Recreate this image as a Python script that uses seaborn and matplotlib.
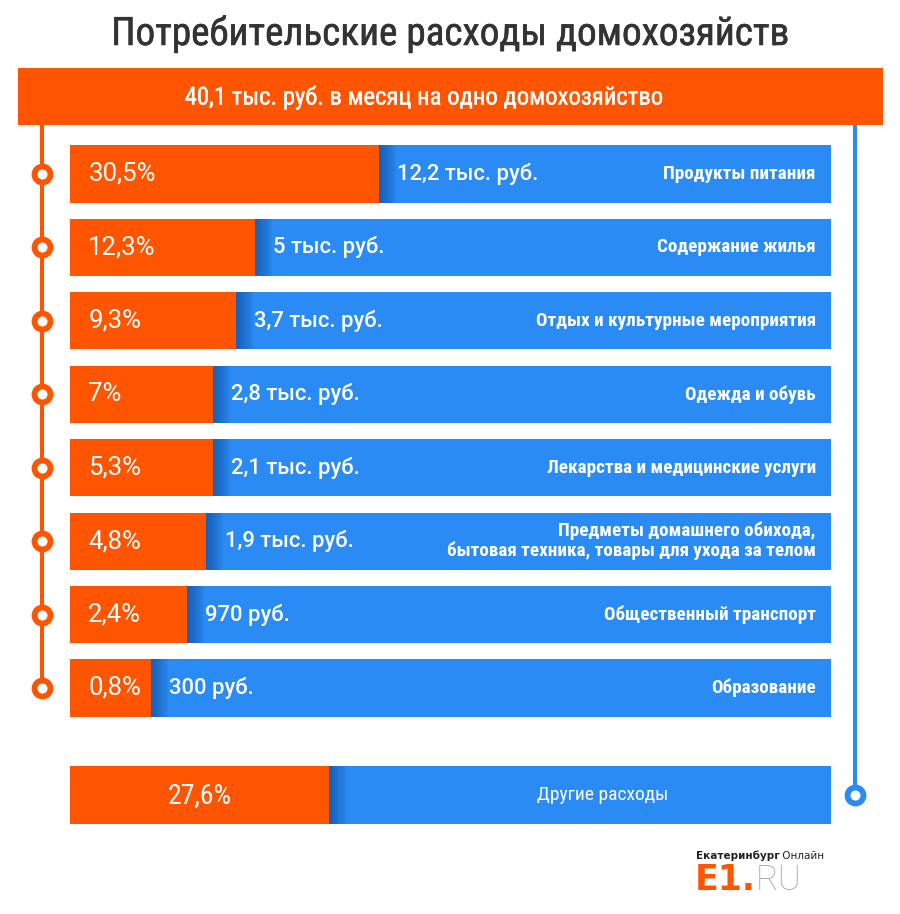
import matplotlib
matplotlib.use("Agg")
import matplotlib.pyplot as plt
import matplotlib.patheffects as pe
import matplotlib.transforms as mtransforms
from matplotlib import font_manager
from matplotlib.patches import Rectangle
import pandas as pd
import seaborn as sns

title = "Потребительские расходы домохозяйств"
total_label = "40,1 тыс. руб. в месяц на одно домохозяйство"

categories = [
    "Продукты питания",
    "Содержание жилья",
    "Отдых и культурные мероприятия",
    "Одежда и обувь",
    "Лекарства и медицинские услуги",
    "Предметы домашнего обихода,\nбытовая техника, товары для ухода за телом",
    "Общественный транспорт",
    "Образование",
]
share_pct = [30.5, 12.3, 9.3, 7.0, 5.3, 4.8, 2.4, 0.8]
amount_labels = [
    "12,2 тыс. руб.", "5 тыс. руб.", "3,7 тыс. руб.", "2,8 тыс. руб.",
    "2,1 тыс. руб.", "1,9 тыс. руб.", "970 руб.", "300 руб.",
]
# orange part as drawn in the infographic, % of the full bar width
orange_len = [40.6, 24.3, 21.8, 18.8, 18.8, 17.9, 15.4, 10.6]

other_category = "Другие расходы"
other_pct = 27.6
other_len = 34.0

ORANGE = "#FF5500"
BLUE = "#2A8BF4"
DARK_BLUE = "#0B3F85"
TITLE_GREY = "#333333"


def pick_font(names):
    installed = {f.name for f in font_manager.fontManager.ttflist}
    for name in names:
        if name in installed:
            return name
    return "DejaVu Sans"


NARROW = pick_font(["Roboto Condensed", "Liberation Sans Narrow", "Noto Sans Condensed",
                    "Open Sans Condensed", "DejaVu Sans"])
REGULAR = pick_font(["Roboto", "Noto Sans", "DejaVu Sans"])


def fmt_pct(v):
    return f"{v:g}".replace(".", ",") + "%"


def draw_bars(ax, df):
    common = dict(y="category", saturation=1, width=0.78, linewidth=0,
                  errorbar=None, orient="h", ax=ax)
    sns.barplot(data=df, x="full", color=BLUE, **common)
    # soft shadow right of the orange part
    for k in range(8, 0, -1):
        sh = df.assign(edge=df["orange"] + 0.28 * k)
        sns.barplot(data=sh, x="edge", color=DARK_BLUE, alpha=0.085, **common)
    sns.barplot(data=df, x="orange", color=ORANGE, **common)
    ax.set_xlim(0, 100)
    ax.axis("off")


def text_after(fig, prev, s, **kw):
    # put s right after prev, on the same baseline
    r = fig.canvas.get_renderer()
    bb = prev.get_window_extent(renderer=r)
    x0, y0 = prev.get_position()
    x = bb.x1 / fig.bbox.width
    return fig.text(x, y0, s, va="baseline", ha="left", **kw)


def main():
    sns.set_theme(style="white")
    plt.rcParams["font.family"] = [REGULAR, "DejaVu Sans"]

    fig = plt.figure(figsize=(9, 9.14), dpi=100)
    fig.patch.set_facecolor("white")

    # main rows
    ax = fig.add_axes([0.0778, 0.2071, 0.8456, 0.6427])
    df = pd.DataFrame({"category": categories, "full": 100.0, "orange": orange_len})
    draw_bars(ax, df)
    ax.set_ylim(len(categories) - 0.5, -0.5)

    for i in range(len(categories)):
        ax.text(2.4, i, fmt_pct(share_pct[i]), color="white", va="center", ha="left",
                fontsize=18.5, family=REGULAR)
        ax.text(orange_len[i] + 2.4, i, amount_labels[i], color="white", va="center",
                ha="left", fontsize=15.8, family=REGULAR, fontweight="medium")
        ax.text(98.0, i, categories[i], color="white", va="center", ha="right",
                fontsize=13.8, family=NARROW, fontweight="bold", linespacing=1.1,
                fontstretch="condensed")

    # orange timeline with circles
    tr = mtransforms.blended_transform_factory(fig.transFigure, ax.transData)
    ax.plot([0.0467, 0.0467], [-0.8, len(categories) - 1], color=ORANGE, lw=2.9,
            transform=tr, clip_on=False, zorder=1)
    ax.plot([0.0467] * len(categories), list(range(len(categories))), ls="none",
            marker="o", ms=11.5, mew=4.2, mec=ORANGE, mfc="white", transform=tr,
            clip_on=False, zorder=2)

    # "other" row
    ax2 = fig.add_axes([0.0778, 0.0900, 0.8456, 0.0803])
    df2 = pd.DataFrame({"category": [other_category], "full": [100.0], "orange": [other_len]})
    draw_bars(ax2, df2)
    ax2.set_ylim(0.5, -0.5)
    ax2.text(other_len / 2, 0, fmt_pct(other_pct), color="white", va="center", ha="center",
             fontsize=20, family=NARROW, fontstretch="condensed")
    ax2.text(70.0, 0, other_category, color="white", va="center", ha="center",
             fontsize=14, family=NARROW, fontstretch="condensed")

    tr2 = mtransforms.blended_transform_factory(fig.transFigure, ax2.transData)
    ax2.plot([0.95, 0.95], [-9.3, 0], color=BLUE, lw=2.9, transform=tr2,
             clip_on=False, zorder=1)
    ax2.plot([0.95], [0], ls="none", marker="o", ms=11.5, mew=4.2, mec=BLUE,
             mfc="white", transform=tr2, clip_on=False, zorder=2)

    # header
    fig.text(0.5, 1 - 34 / 914, title, ha="center", va="center", fontsize=28.2,
             color=TITLE_GREY, family=NARROW, fontstretch="condensed",
             path_effects=[pe.withStroke(linewidth=0.4, foreground=TITLE_GREY)])
    fig.add_artist(Rectangle((0.02, 1 - 125 / 914), 0.961, 57 / 914,
                             transform=fig.transFigure, color=ORANGE, lw=0, zorder=1))
    fig.text(0.4706, 1 - 97 / 914, total_label, ha="center", va="center", fontsize=17.8,
             color="white", family=NARROW, fontstretch="condensed", zorder=3,
             path_effects=[pe.withStroke(linewidth=0.25, foreground="white")])

    # logo
    t_city = fig.text(0.773, 1 - 859 / 914, "Екатеринбург", ha="left", va="baseline",
                      fontsize=7.5, fontweight="bold", color="#222222", family="DejaVu Sans")
    text_after(fig, t_city, " Онлайн", fontsize=7.5, color="#222222", family="DejaVu Sans")
    t_e1 = fig.text(0.772, 1 - 890 / 914, "E1.", ha="left", va="baseline", fontsize=25,
                    fontweight="heavy", color=ORANGE, family="DejaVu Sans")
    text_after(fig, t_e1, "RU", fontsize=25, color="#AAAAAA", family=REGULAR,
               fontweight="light")

    fig.savefig("out.png", dpi=100, facecolor="white")
    print(f"fonts: {NARROW}, {REGULAR}")


if __name__ == "__main__":
    main()
